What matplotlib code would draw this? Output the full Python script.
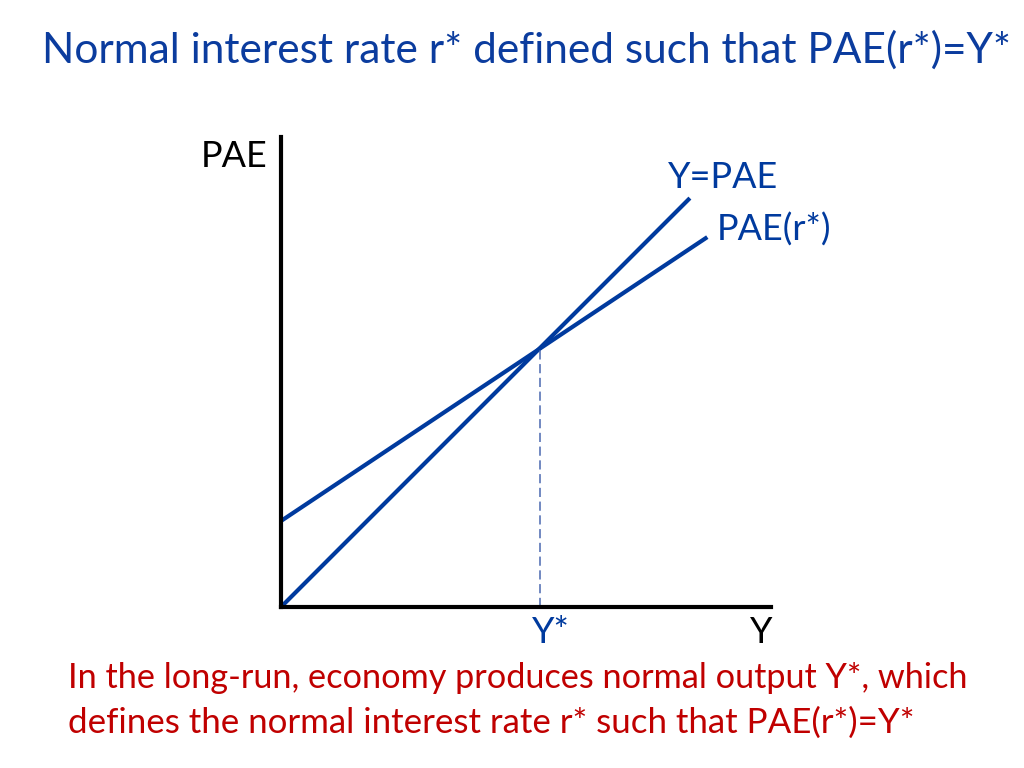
import matplotlib
matplotlib.use("Agg")
import matplotlib.pyplot as plt

# ---- data (diagram units) ----
y_star = 5.5
line45_x = [0.0, 8.7]
line45_y = [0.0, 8.7]
pae_x = [0.0, 9.07]
pae_y = [1.83, 7.87]
dash_x = [y_star, y_star]
dash_y = [0.0, y_star]

title = "Normal interest rate r* defined such that PAE(r*)=Y*"
note_lines = ["In the long-run, economy produces normal output Y*, which",
              "defines the normal interest rate r* such that PAE(r*)=Y*"]
lab_45 = "Y=PAE"
lab_pae = "PAE(r*)"
lab_ystar = "Y*"
lab_y = "Y"
lab_yaxis = "PAE"

BLUE = "#003A9E"
TITLE_BLUE = "#0B3C9E"
RED = "#C00000"
FONT = ["Lato", "DejaVu Sans"]

W, H = 1024, 768
fig = plt.figure(figsize=(W / 100, H / 100), dpi=100)
fig.patch.set_facecolor("white")

# axes area in pixels: x 281..771, y 137..607
ax = fig.add_axes([281 / W, 1 - 607 / H, 490 / W, 470 / H])
ax.set_xlim(0, 490 / 47)
ax.set_ylim(0, 10)
for s in ["top", "right"]:
    ax.spines[s].set_visible(False)
for s in ["left", "bottom"]:
    ax.spines[s].set_linewidth(3)
    ax.spines[s].set_color("black")
    ax.spines[s].set_capstyle("projecting")
ax.set_xticks([])
ax.set_yticks([])
ax.patch.set_alpha(0)

ax.plot(line45_x, line45_y, color=BLUE, lw=3, clip_on=False, solid_capstyle="butt")
ax.plot(pae_x, pae_y, color=BLUE, lw=3, clip_on=False, solid_capstyle="butt")
ax.plot(dash_x, dash_y, color="#4A68B0", lw=1.1, ls=(0, (6, 3)), clip_on=False)

renderer = fig.canvas.get_renderer()


def fit(txt, x_left, baseline, target_w, color, size_guess):
    t = fig.text(x_left / W, 1 - baseline / H, txt, color=color, family=FONT,
                 fontsize=size_guess, ha="left", va="baseline")
    bb = t.get_window_extent(renderer)
    t.set_fontsize(size_guess * target_w / bb.width)
    return t


def put(txt, x, baseline, color, size, ha="left"):
    return fig.text(x / W, 1 - baseline / H, txt, color=color, family=FONT,
                    fontsize=size, ha=ha, va="baseline")


fit(title, 42, 63, 968, TITLE_BLUE, 30)
fit(note_lines[0], 68, 688, 902, RED, 24)
fit(note_lines[1], 68, 733, 847, RED, 24)
ref = fit(lab_pae, 717, 241, 115, BLUE, 24)
ls = ref.get_fontsize()
put(lab_yaxis, 268, 167, "black", ls, ha="right")
put(lab_45, 668, 188, BLUE, ls)
put(lab_ystar, 550.5, 643, BLUE, ls, ha="center")
put(lab_y, 761, 643, "black", ls, ha="center")

fig.savefig("out.png", dpi=100, facecolor="white")
